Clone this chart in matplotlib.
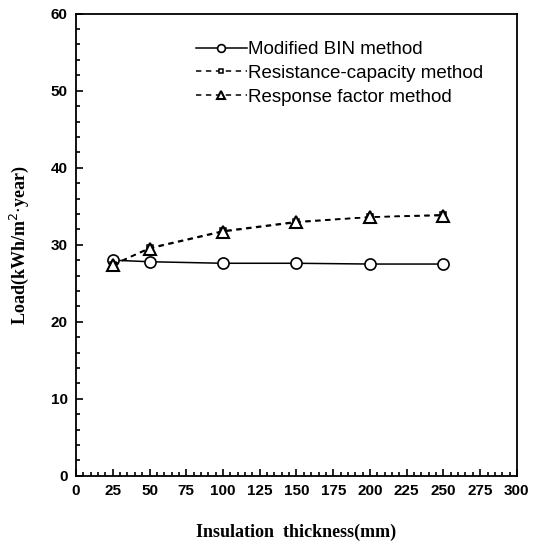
import matplotlib
import matplotlib.pyplot as plt
from matplotlib.ticker import MultipleLocator

matplotlib.use('Agg')

thickness = [25, 50, 100, 150, 200, 250]
bin_load = [28.0, 27.8, 27.6, 27.6, 27.5, 27.5]
rc_load = [27.4, 29.6, 31.8, 33.0, 33.6, 33.9]
rf_load = [27.4, 29.5, 31.7, 32.9, 33.6, 33.8]

x_ticks = list(range(0, 301, 25))
y_ticks = list(range(0, 61, 10))

fig = plt.figure(figsize=(5.43, 5.47), dpi=100)
ax = fig.add_axes([0.14, 0.13, 0.812, 0.845])

ax.plot(thickness, bin_load, '-', color='black', lw=1.1, marker='o', ms=8,
        mfc='white', mec='black', mew=1.2, label='Modified BIN method')
ax.plot(thickness, rc_load, '--', color='black', lw=1.1, marker='s', ms=5,
        mfc='white', mec='black', mew=1.1, dashes=(3.5, 3),
        label='Resistance-capacity method')
ax.plot(thickness, rf_load, '--', color='black', lw=1.1, marker='^', ms=8,
        mfc='white', mec='black', mew=1.5, dashes=(3.5, 3),
        label='Response factor method')

ax.set_xlim(0, 300)
ax.set_ylim(0, 60)
ax.set_xticks(x_ticks)
ax.set_yticks(y_ticks)
ax.xaxis.set_minor_locator(MultipleLocator(5))
ax.yaxis.set_minor_locator(MultipleLocator(2))
ax.tick_params(which='both', direction='in', top=False, right=False, width=1.2)
ax.tick_params(which='major', length=5, labelsize=11, pad=6)
ax.tick_params(which='minor', length=3)
for lbl in ax.get_xticklabels() + ax.get_yticklabels():
    lbl.set_fontfamily('Liberation Sans')
    lbl.set_fontweight('bold')
for sp in ax.spines.values():
    sp.set_linewidth(1.3)

ax.set_xlabel('Insulation  thickness(mm)', family='Liberation Serif',
              fontweight='bold', fontsize=13, labelpad=18)
ax.set_ylabel('Load(kWh/m$^{2}$$\\cdot$year)', family='Liberation Serif',
              fontweight='bold', fontsize=13, labelpad=14)

leg = ax.legend(loc='upper left', bbox_to_anchor=(0.255, 0.957), frameon=False,
                prop={'family': 'Liberation Sans', 'size': 13.5},
                handlelength=2.7, handletextpad=0.1, labelspacing=0.35,
                borderaxespad=0, markerscale=0.7)

fig.savefig('out.png', dpi=100)
